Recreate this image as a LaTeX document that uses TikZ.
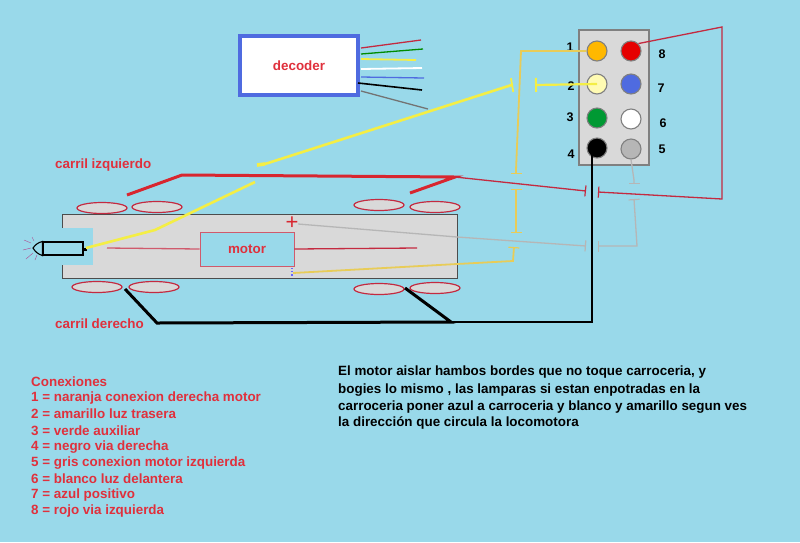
\documentclass[tikz,border=0pt]{standalone}
\usepackage{fontspec}
\setmainfont{Liberation Sans}
\usetikzlibrary{arrows.meta,shapes.geometric}
\definecolor{colorBG}{HTML}{99D9EA}
\definecolor{colorPanel}{HTML}{D9D9D9}
\definecolor{colorTXT}{HTML}{E0303C}
\definecolor{colorRED}{HTML}{C42A40}
\definecolor{colorRAIL}{HTML}{D8262F}
\definecolor{colorYEL}{HTML}{F4EE45}
\definecolor{colorORG}{HTML}{E8CC58}
\definecolor{colorGRY}{HTML}{B6B6B6}
\definecolor{colorBLU}{HTML}{4F6BE0}
\definecolor{colorAXL}{HTML}{D05A6C}
\definecolor{colorRAY}{HTML}{B04A90}
\tikzset{
   tag/.style={text=colorTXT,font=\bfseries\fontsize{13.4}{15}\selectfont,anchor=west,inner sep=0pt},
   num/.style={text=black,font=\bfseries\fontsize{12.5}{14}\selectfont,inner sep=0pt},
   note/.style={text=black,font=\bfseries\fontsize{13.4}{15}\selectfont,anchor=west,inner sep=0pt},
   pinc/.style={circle,minimum size=20pt,inner sep=0pt,draw=black!50,line width=1.1pt},
   bogie/.style={ellipse,minimum width=50pt,minimum height=11pt,inner sep=0pt,fill=colorPanel,draw=colorRED,line width=1.2pt},
   wire/.style={line width=1.3pt},
   wbar/.style={wire,-{Bar[width=11pt,line width=1.2pt]}},
   wbars/.style={wire,{Bar[width=11pt,line width=1.2pt]}-{Bar[width=11pt,line width=1.2pt]}},
   rail/.style={color=colorRAIL,line width=3pt},
   ground/.style={color=black,line width=3pt},
}
\newcommand{\dwire}[3]{\draw[wire,color=#1] (#2) -- (#3)}
\begin{document}
\begin{tikzpicture}[x=1pt,y=-1pt]
  \useasboundingbox (0,0) rectangle (800,542);
  \fill[colorBG] (0,0) rectangle (800,542);

  % decoder
  \node[draw=colorBLU,line width=4pt,fill=white,minimum width=118pt,minimum height=59pt,inner sep=0pt,
        text=colorTXT,font=\bfseries\fontsize{13.4}{15}\selectfont] (dec) at (299,65.5) {decoder};
  \node[coordinate] (d1) at (421,40) {};
  \node[coordinate] (d2) at (423,49) {};
  \node[coordinate] (d3) at (416,60) {};
  \node[coordinate] (d4) at (422,68) {};
  \node[coordinate] (d5) at (424,78) {};
  \node[coordinate] (d6) at (422,90) {};
  \node[coordinate] (d7) at (428,109) {};
  \dwire{colorRED}{361,48}{d1};
  \dwire{green!55!black}{361,54}{d2};
  \draw[colorYEL,line width=1.8pt] (361,59) -- (d3);
  \draw[white,line width=1.8pt] (361,69) -- (d4);
  \dwire{colorBLU}{361,77}{d5};
  \draw[black,line width=1.6pt] (358,83) -- (d6);
  \dwire{black!55}{361,91}{d7};

  % panel
  \node[draw=black!50,line width=1.2pt,fill=colorPanel,minimum width=70pt,minimum height=135pt,inner sep=0pt] (panel) at (614,97.5) {};
  \node[pinc,fill=orange!40!yellow!90!red] (P1) at (597,51) {};
  \node[pinc,fill=yellow!30] (P2) at (597,84) {};
  \node[pinc,fill=green!50!black!80!cyan] (P3) at (597,118) {};
  \node[pinc,fill=black] (P4) at (597,148) {};
  \node[pinc,fill=colorGRY] (P5) at (631,149) {};
  \node[pinc,fill=white] (P6) at (631,119) {};
  \node[pinc,fill=colorBLU] (P7) at (631,84) {};
  \node[pinc,fill=red!90!black] (P8) at (631,51) {};
  \node[num] (n1) at (570,47) {1};
  \node[num] (n2) at (571,86) {2};
  \node[num] (n3) at (570,117) {3};
  \node[num] (n4) at (571,154) {4};
  \node[num] (n5) at (662,149) {5};
  \node[num] (n6) at (663,123) {6};
  \node[num] (n7) at (661,88) {7};
  \node[num] (n8) at (662,54) {8};

  % locomotive
  \node[draw=black!70,line width=0.8pt,fill=colorPanel,minimum width=395pt,minimum height=64pt,inner sep=0pt] (body) at (259.5,246) {};
  \fill[colorBG] (61,228) rectangle (93,265);
  \node[draw=colorAXL,line width=0.9pt,fill=colorBG,minimum width=94pt,minimum height=34pt,inner sep=0pt,
        text=colorTXT,font=\bfseries\fontsize{13.4}{15}\selectfont] (motor) at (247,249) {motor};
  \node[coordinate] (ax1) at (107,248) {};
  \node[coordinate] (ax2) at (417,248) {};
  \dwire{colorAXL}{ax1}{motor.west};
  \draw[wire,colorRED] (motor.east) -- (ax2);
  \node[bogie] (b1) at (102,208) {};
  \node[bogie] (b2) at (157,207) {};
  \node[bogie] (b3) at (379,205) {};
  \node[bogie] (b4) at (435,207) {};
  \node[bogie] (b5) at (97,287) {};
  \node[bogie] (b6) at (154,287) {};
  \node[bogie] (b7) at (379,289) {};
  \node[bogie] (b8) at (435,288) {};
  \node[text=colorRAIL,inner sep=0pt,font=\fontsize{22}{22}\selectfont] (plus) at (292,223) {+};
  \draw[blue!60,dotted,line width=1.2pt] (292,268) -- (292,277);

  % lamp
  \node[draw=black,line width=1.1pt,fill=colorBG,minimum width=40pt,minimum height=13pt,inner sep=0pt] (lamp) at (63,248.5) {};
  \node[coordinate] (tip) at (33,248) {};
  \draw[black,line width=1.1pt,fill=colorBG] (lamp.north west) to[bend right=20] (tip) to[bend right=20] (lamp.south west) -- cycle;
  \draw[colorRAY] (31,243) -- (24,240) (31,248) -- (23,250) (33,253) -- (26,259) (37,255) -- (35,260) (34,241) -- (32,237);
  \fill[black] (83,248) rectangle (87,251);

  % rails
  \node[coordinate] (r1) at (127,195) {};
  \node[coordinate] (r2) at (182,175) {};
  \node[coordinate] (r3) at (455,177) {};
  \node[coordinate] (r4) at (410,193) {};
  \draw[rail] (r1) -- (r2) -- (r3) -- (r4);
  \node[coordinate] (g1) at (125,289) {};
  \node[coordinate] (g2) at (157,323) {};
  \node[coordinate] (g3) at (451,322) {};
  \node[coordinate] (g4) at (405,288) {};
  \draw[ground] (g1) -- (g2) -- (g3) -- (g4);
  \node[coordinate] (g5) at (592,322) {};
  \node[coordinate] (g6) at (592,155) {};
  \draw[black,line width=1.6pt] (g3) -- (g5) -- (g6);

  % yellow, lamp side
  \node[coordinate] (y1) at (86,248) {};
  \node[coordinate] (y2) at (155,230) {};
  \node[coordinate] (y3) at (255,182) {};
  \draw[colorYEL,line width=2.6pt] (y1) -- (y2) -- (y3);
  \node[coordinate] (y4) at (513,85) {};
  \node[coordinate] (y5) at (265,164) {};
  \draw[colorYEL,line width=2.6pt,-{Bar[width=14pt,line width=1.8pt]}] (y5) -- (510,85.5) -- (y4);
  \draw[colorYEL,line width=3.6pt] (257,165) -- (y5);
  \node[coordinate] (y6) at (535,85) {};
  \draw[colorYEL,line width=2.2pt,{Bar[width=14pt,line width=2pt]}-] (y6) -- (P2.center);

  % orange wire
  \node[coordinate] (o1) at (521,51) {};
  \node[coordinate] (o2) at (516,174) {};
  \node[coordinate] (o3) at (516,189) {};
  \node[coordinate] (o4) at (516,233) {};
  \node[coordinate] (o5) at (514,247) {};
  \node[coordinate] (o6) at (513,261) {};
  \node[coordinate] (o7) at (293,273) {};
  \draw[colorORG,wbar,line width=1.8pt] (P1.west) -- (o1) -- (516,170) -- (o2);
  \draw[colorORG,wbars,line width=1.8pt] (o3) -- (o4);
  \draw[colorORG,wbar,line width=1.8pt] (o7) -- (457,264) -- (o6) -- (o5);

  % red wire
  \node[coordinate] (k1) at (722,27) {};
  \node[coordinate] (k2) at (722,199) {};
  \node[coordinate] (k3) at (598,192) {};
  \node[coordinate] (k4) at (586,191) {};
  \draw[colorRED,wbar] (P8.north east) -- (k1) -- (k2) -- (k3);
  \draw[colorRED,wbar] (r3) -- (k4);

  % gray wire
  \node[coordinate] (c1) at (634,184) {};
  \node[coordinate] (c2) at (634,199) {};
  \node[coordinate] (c3) at (637,246) {};
  \node[coordinate] (c4) at (598,246) {};
  \node[coordinate] (c5) at (586,246) {};
  \node[coordinate] (c6) at (298,224) {};
  \draw[colorGRY,wbar] (P5.south) -- (634,180) -- (c1);
  \draw[colorGRY,wbars] (c2) -- (c3) -- (c4);
  \draw[colorGRY,wbar] (c6) -- (457,237) -- (c5);

  % labels
  \node[tag] (lizq) at (55,165) {carril izquierdo};
  \node[tag] (lder) at (55,324) {carril derecho};
  \node[tag] (t0) at (31,382) {Conexiones};
  \node[tag] (t1) at (31,398) {1 = naranja conexion derecha motor};
  \node[tag] (t2) at (31,414) {2 = amarillo luz trasera};
  \node[tag] (t3) at (31,431) {3 = verde auxiliar};
  \node[tag] (t4) at (31,447) {4 = negro via derecha};
  \node[tag] (t5) at (31,463) {5 = gris conexion motor izquierda};
  \node[tag] (t6) at (31,479) {6 = blanco luz delantera};
  \node[tag] (t7) at (31,495) {7 = azul positivo};
  \node[tag] (t8) at (31,511) {8 = rojo via izquierda};
  \node[note] (s1) at (338,372) {El motor aislar hambos bordes que no toque carroceria, y};
  \node[note] (s2) at (338,390) {bogies lo mismo , las lamparas si estan enpotradas en la};
  \node[note] (s3) at (338,407) {carroceria poner azul a carroceria y blanco y amarillo segun ves};
  \node[note] (s4) at (338,423) {la dirección que  circula la locomotora};
\end{tikzpicture}
\end{document}
